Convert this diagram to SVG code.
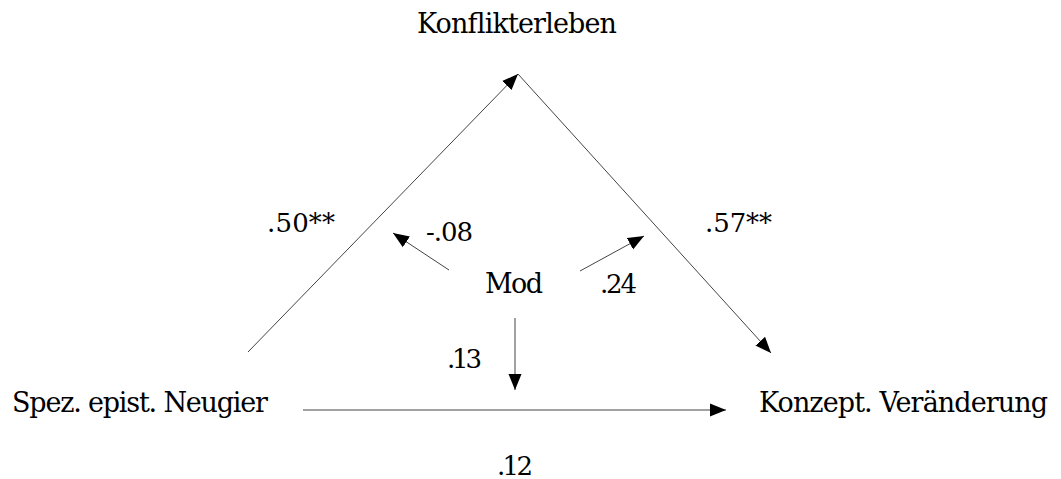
<svg xmlns="http://www.w3.org/2000/svg" width="1061" height="479" viewBox="0 0 1061 479">
<style>
text { font-family: 'DejaVu Serif', 'Noto Serif', 'Liberation Serif', 'Times New Roman', Times, serif; font-size: 27px; fill: #000; }
.num { font-size: 26px; }
.conn { stroke: #444; stroke-width: 1; fill: none; marker-end: url(#arrow); }
</style>
<defs>
<marker id="arrow" markerUnits="userSpaceOnUse" markerWidth="17" markerHeight="14" refX="16" refY="7" orient="auto" viewBox="0 0 17 14">
<path d="M0,0.5 L16,7 L0,13.5 z" fill="#000"/>
</marker>
</defs>
<rect width="1061" height="479" fill="#fff"/>
<g id="connectors">
<line class="conn" x1="248" y1="352" x2="518" y2="74"/>
<line class="conn" x1="518" y1="74" x2="771" y2="353"/>
<line class="conn" x1="303" y1="410" x2="726" y2="410"/>
<line class="conn" x1="515" y1="318" x2="515" y2="390"/>
<line class="conn" x1="449" y1="270" x2="393" y2="233"/>
<line class="conn" x1="580" y1="271" x2="644" y2="236"/>
</g>
<g id="node-konflikterleben"><text x="417" y="33" textLength="200">Konflikterleben</text></g>
<g id="node-neugier"><text x="12" y="412" textLength="256">Spez. epist. Neugier</text></g>
<g id="node-veraenderung"><text x="759" y="412" textLength="289">Konzept. Veränderung</text></g>
<g id="node-mod"><text x="485" y="293" textLength="58">Mod</text></g>
<g id="labels">
<text class="num" x="267" y="232" textLength="68">.50**</text>
<text class="num" x="705" y="232" textLength="67">.57**</text>
<text class="num" x="426" y="241" textLength="47">-.08</text>
<text class="num" x="600" y="293" textLength="37">.24</text>
<text class="num" x="447" y="368" textLength="35">.13</text>
<text class="num" x="497" y="475" textLength="36">.12</text>
</g>
</svg>
